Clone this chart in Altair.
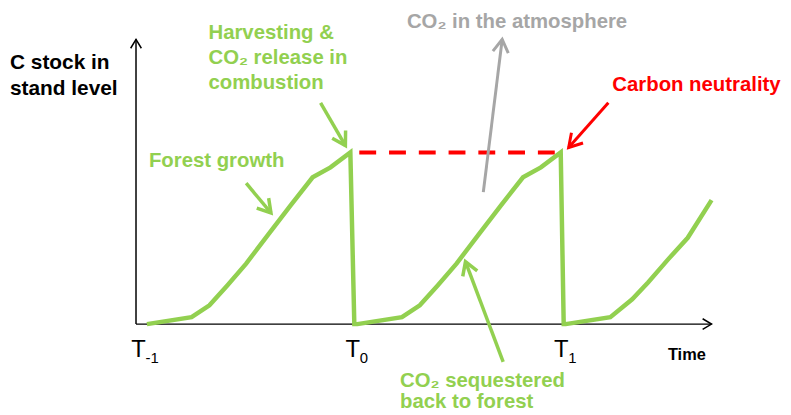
import math
import altair as alt
import pandas as pd

GREEN = "#92D050"
RED = "#FF0000"
GRAY = "#A6A6A6"
BLACK = "#000000"

# plot-area units: x = time, y = C stock (origin at the axes' corner)
X_MAX = 580
Y_MAX = 287

# C stock in stand level over time (three rotations, last one cut at the edge)
stock_x = [11, 56, 74, 92, 111, 133, 156, 178, 196, 216, 220,
           223, 268, 286, 304, 323, 345, 368, 390, 408, 428, 431,
           433, 478, 500, 516, 536, 556, 580]
stock_y = [0, 7, 19, 39, 61, 90, 120, 148, 158, 173, 0,
           0, 7, 19, 39, 61, 90, 120, 148, 158, 173, 0,
           0, 7, 25, 42, 65, 87, 125]

# carbon neutrality level (dashed)
neutral_x = [225]
neutral_x2 = [425]
neutral_y = [173]

# time ticks
tick_x = [2.5, 218.5, 428.5]
tick_main = ["T", "T", "T"]
tick_sub = ["-1", "0", "1"]

# annotation arrows (tail -> head)
arrow_x0 = [186, 111, 370, 476, 350]
arrow_y0 = [223, 142, -38, 223, 133]
arrow_x1 = [211, 136, 332, 436, 369]
arrow_y1 = [180, 112, 63, 178, 287]
arrow_color = [GREEN, GREEN, GREEN, RED, GRAY]
arrow_width = [3.5, 3.5, 3.5, 3, 3]

# annotation texts
label_text = ["Harvesting &", "CO₂ release in", "combustion", "Forest growth",
              "CO₂ in the atmosphere", "Carbon neutrality",
              "CO₂ sequestered", "back to forest"]
label_x = [73, 73, 73, 13, 273, 480, 266, 266]
label_y = [287, 262, 237, 158, 298, 235, -63, -85]
label_color = [GREEN, GREEN, GREEN, GREEN, GRAY, RED, GREEN, GREEN]

ytitle_text = ["C stock in", "stand level"]
ytitle_x = [-127, -127]
ytitle_y = [257, 231]

xtitle_text = ["Time"]
xtitle_x = [536]
xtitle_y = [-36]

# ---------------------------------------------------------------------------
xs = alt.Scale(domain=[0, X_MAX], nice=False, zero=False)
ys = alt.Scale(domain=[0, Y_MAX], nice=False, zero=False)


def X(f):
    return alt.X(f, type="quantitative", scale=xs, axis=None)


def Y(f):
    return alt.Y(f, type="quantitative", scale=ys, axis=None)


CHEVRON = "M -0.6 1 L 0 0 L 0.6 1"


def heading(x0, y0, x1, y1):
    return math.degrees(math.atan2(x1 - x0, y1 - y0)) % 360


axes_df = pd.DataFrame({
    "x": [0, 0], "y": [0, 0], "x2": [X_MAX, 0], "y2": [0, Y_MAX]})
axes_df["angle"] = [heading(a, b, c, d) for a, b, c, d in
                    zip(axes_df.x, axes_df.y, axes_df.x2, axes_df.y2)]

axes_lines = alt.Chart(axes_df).mark_rule(color=BLACK, strokeWidth=1.5).encode(
    x=X("x"), y=Y("y"), x2="x2", y2="y2")
axes_heads = alt.Chart(axes_df).mark_point(
    shape=CHEVRON, filled=False, size=324, color=BLACK, strokeWidth=1.5,
    opacity=1).encode(x=X("x2"), y=Y("y2"), angle=alt.Angle("angle:Q", scale=None))

neutral_df = pd.DataFrame({"x": neutral_x, "x2": neutral_x2, "y": neutral_y})
neutral = alt.Chart(neutral_df).mark_rule(
    color=RED, strokeWidth=4, strokeDash=[17, 13]).encode(
    x=X("x"), x2="x2", y=Y("y"))

arrow_df = pd.DataFrame({"x": arrow_x0, "y": arrow_y0, "x2": arrow_x1,
                         "y2": arrow_y1, "c": arrow_color, "w": arrow_width})
arrow_df["angle"] = [heading(a, b, c, d) for a, b, c, d in
                     zip(arrow_x0, arrow_y0, arrow_x1, arrow_y1)]

arrow_lines = alt.Chart(arrow_df).mark_rule().encode(
    x=X("x"), y=Y("y"), x2="x2", y2="y2",
    color=alt.Color("c:N", scale=None),
    strokeWidth=alt.StrokeWidth("w:Q", scale=None))
arrow_heads = alt.Chart(arrow_df).mark_point(
    shape=CHEVRON, filled=False, size=676, opacity=1).encode(
    x=X("x2"), y=Y("y2"),
    color=alt.Color("c:N", scale=None),
    strokeWidth=alt.StrokeWidth("w:Q", scale=None),
    angle=alt.Angle("angle:Q", scale=None))

stock_df = pd.DataFrame({"t": stock_x, "c": stock_y, "order": range(len(stock_x))})
stock = alt.Chart(stock_df).mark_line(color=GREEN, strokeWidth=4.5).encode(
    x=X("t"), y=Y("c"), order="order:Q")

label_df = pd.DataFrame({"text": label_text, "x": label_x, "y": label_y,
                         "c": label_color})
labels = alt.Chart(label_df).mark_text(
    align="left", baseline="alphabetic", font="Liberation Sans",
    fontWeight="bold", fontSize=20.5).encode(
    x=X("x"), y=Y("y"), text="text:N", color=alt.Color("c:N", scale=None))

ytitle_df = pd.DataFrame({"text": ytitle_text, "x": ytitle_x, "y": ytitle_y})
ytitle = alt.Chart(ytitle_df).mark_text(
    align="left", baseline="alphabetic", font="Liberation Sans",
    fontWeight="bold", fontSize=21, color=BLACK).encode(
    x=X("x"), y=Y("y"), text="text:N")

xtitle_df = pd.DataFrame({"text": xtitle_text, "x": xtitle_x, "y": xtitle_y})
xtitle = alt.Chart(xtitle_df).mark_text(
    align="left", baseline="alphabetic", font="Liberation Sans",
    fontWeight="bold", fontSize=16.5, color=BLACK).encode(
    x=X("x"), y=Y("y"), text="text:N")

tick_df = pd.DataFrame({"x": tick_x, "main": tick_main, "sub": tick_sub,
                        "y": [-33.5] * len(tick_x)})
ticks_main = alt.Chart(tick_df).mark_text(
    align="center", baseline="alphabetic", font="Liberation Sans",
    fontSize=24, color=BLACK).encode(x=X("x"), y=Y("y"), text="main:N")
ticks_sub = alt.Chart(tick_df).mark_text(
    align="left", baseline="alphabetic", font="Liberation Sans",
    fontSize=15, color=BLACK, dx=7, dy=5.5).encode(
    x=X("x"), y=Y("y"), text="sub:N")

chart = alt.layer(
    axes_lines, axes_heads, neutral, arrow_lines, arrow_heads, stock,
    labels, ytitle, xtitle, ticks_main, ticks_sub,
).properties(
    width=X_MAX, height=Y_MAX,
    autosize=alt.AutoSizeParams(type="none"),
    padding={"left": 129, "top": 30, "right": 72, "bottom": 88},
    background="white",
).configure_view(stroke=None)

chart.save("out.html", embed_options={"renderer": "svg", "actions": False})
